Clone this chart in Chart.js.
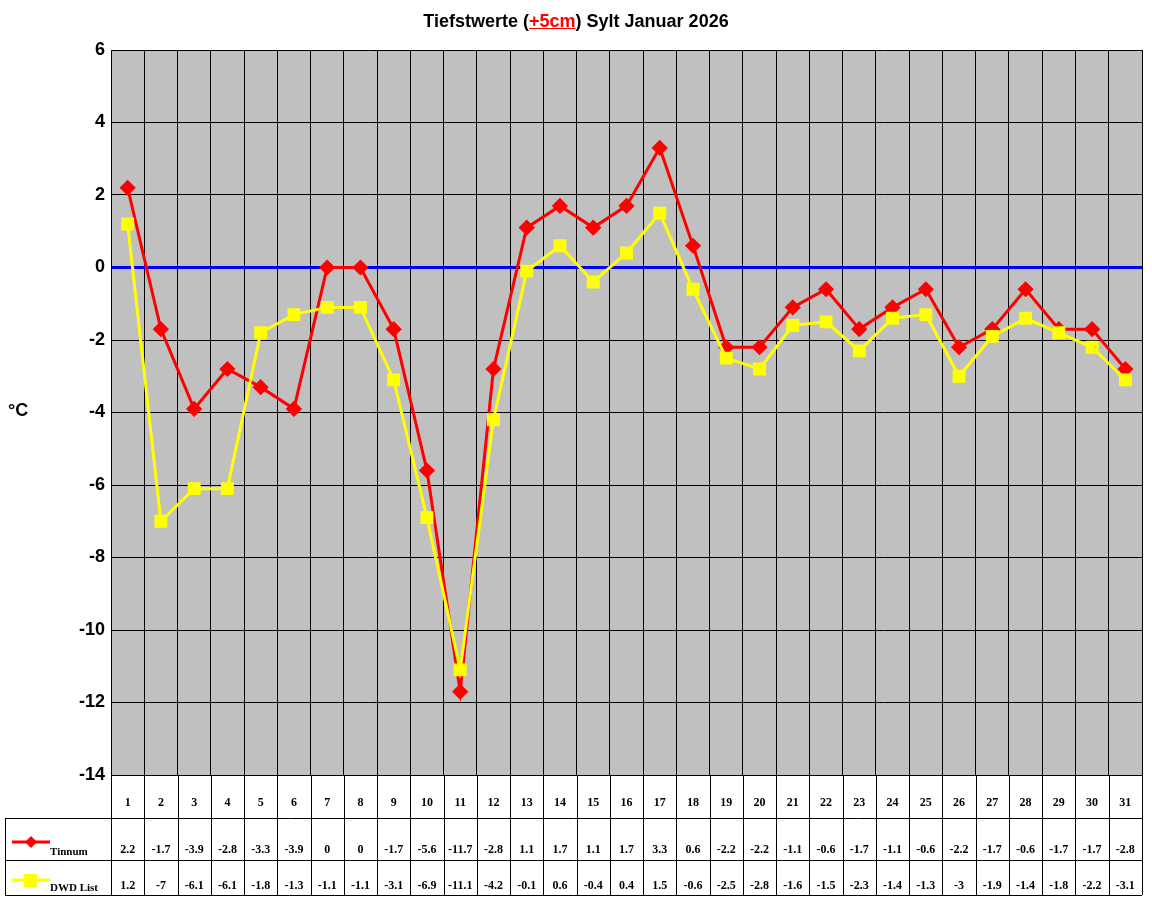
<!DOCTYPE html>
<html><head><meta charset="utf-8">
<script src="https://cdn.jsdelivr.net/npm/chart.js@4"></script>
<style>
body{margin:0;background:#fff;}
#wrap{position:relative;width:1152px;height:900px;}
#title{position:absolute;top:11px;left:0;width:1152px;text-align:center;font:bold 18px "Liberation Sans",Arial,sans-serif;color:#000;}
#title span{color:#f00;text-decoration:underline;}
#unit{position:absolute;left:8px;top:400px;font:bold 18px "Liberation Sans",Arial,sans-serif;}
</style></head><body>
<div id="wrap">
<canvas id="c" width="1152" height="900"></canvas>
<div id="title">Tiefstwerte (<span>+5cm</span>) Sylt Januar 2026</div>
<div id="unit">°C</div>
</div>
<script>
const days = ["1","2","3","4","5","6","7","8","9","10","11","12","13","14","15","16","17","18","19","20","21","22","23","24","25","26","27","28","29","30","31"];
const tinnum = [2.2,-1.7,-3.9,-2.8,-3.3,-3.9,0,0,-1.7,-5.6,-11.7,-2.8,1.1,1.7,1.1,1.7,3.3,0.6,-2.2,-2.2,-1.1,-0.6,-1.7,-1.1,-0.6,-2.2,-1.7,-0.6,-1.7,-1.7,-2.8];
const dwd = [1.2,-7,-6.1,-6.1,-1.8,-1.3,-1.1,-1.1,-3.1,-6.9,-11.1,-4.2,-0.1,0.6,-0.4,0.4,1.5,-0.6,-2.5,-2.8,-1.6,-1.5,-2.3,-1.4,-1.3,-3,-1.9,-1.4,-1.8,-2.2,-3.1];
const seriesNames = ["Tinnum","DWD List"];

const tablePlugin = {
  id:'tbl',
  beforeDraw(ch){
    const a=ch.chartArea, c=ch.ctx;
    c.save(); c.fillStyle='#c0c0c0'; c.fillRect(a.left,a.top,a.right-a.left,a.bottom-a.top); c.restore();
  },
  afterDraw(ch){
    const c=ch.ctx, x=ch.scales.x, a=ch.chartArea;
    const rows=[a.bottom,818,860,895];
    c.save();
    c.strokeStyle='#000'; c.lineWidth=1;
    const half=(x.getPixelForValue(1)-x.getPixelForValue(0))/2;
    c.beginPath();
    for(let i=0;i<=days.length;i++){
      const px=Math.round(x.getPixelForValue(0)-half+i*2*half)+0.5;
      c.moveTo(px,a.bottom); c.lineTo(px,rows[3]);
    }
    c.moveTo(5.5,rows[1]); c.lineTo(5.5,rows[3]);
    c.moveTo(a.left,rows[0]+0.5); c.lineTo(a.right,rows[0]+0.5);
    for(let r=1;r<4;r++){c.moveTo(5,rows[r]+0.5); c.lineTo(a.right,rows[r]+0.5);}
    c.stroke();
    c.fillStyle='#000'; c.font='bold 12px "Liberation Serif","Times New Roman",serif'; c.textAlign='center'; c.textBaseline='middle';
    days.forEach((d,i)=>{
      const px=x.getPixelForValue(i);
      c.fillText(d,px,803);
      c.fillText(String(tinnum[i]),px,850);
      c.fillText(String(dwd[i]),px,886);
    });
    // legend
    c.textAlign='left';
    c.strokeStyle='#f00'; c.lineWidth=3; c.beginPath(); c.moveTo(12,842); c.lineTo(50,842); c.stroke();
    c.fillStyle='#f00'; c.beginPath(); c.moveTo(31,836); c.lineTo(37,842); c.lineTo(31,848); c.lineTo(25,842); c.closePath(); c.fill();
    c.strokeStyle='#ff0'; c.beginPath(); c.moveTo(12,880); c.lineTo(50,880); c.stroke();
    c.fillStyle='#ff0'; c.fillRect(24,874,13,13);
    c.fillStyle='#000'; c.font='bold 11px "Liberation Serif","Times New Roman",serif';
    c.fillText(seriesNames[0],50,852); c.fillText(seriesNames[1],50,888);
    c.restore();
  }
};

new Chart(document.getElementById('c'),{
  type:'line',
  data:{labels:days,datasets:[
    {label:seriesNames[0],data:tinnum,borderColor:'#f00',backgroundColor:'#f00',borderWidth:3,pointStyle:'rectRot',pointRadius:6,pointHoverRadius:6,tension:0,order:2},
    {label:seriesNames[1],data:dwd,borderColor:'#ff0',backgroundColor:'#ff0',borderWidth:3,pointStyle:'rect',pointRadius:7,pointHoverRadius:7,tension:0,order:1}
  ]},
  options:{
    responsive:false,animation:false,
    layout:{padding:{top:50,right:5,bottom:125,left:0}},
    plugins:{legend:{display:false},title:{display:false},tooltip:{enabled:false}},
    scales:{
      x:{offset:true,grid:{offset:true,color:'#000',drawTicks:false},border:{color:'#000'},ticks:{display:false}},
      y:{min:-14,max:6,ticks:{stepSize:2,color:'#000',font:{family:'"Liberation Sans",Arial,sans-serif',size:18,weight:'bold'},padding:6},
         afterFit(s){s.width=111;},
         grid:{drawTicks:false,color:c=>c.tick&&c.tick.value===0?'#00f':'#000',lineWidth:c=>c.tick&&c.tick.value===0?3:1},border:{color:'#000'}}
    }
  },
  plugins:[tablePlugin]
});
</script>
</body></html>
